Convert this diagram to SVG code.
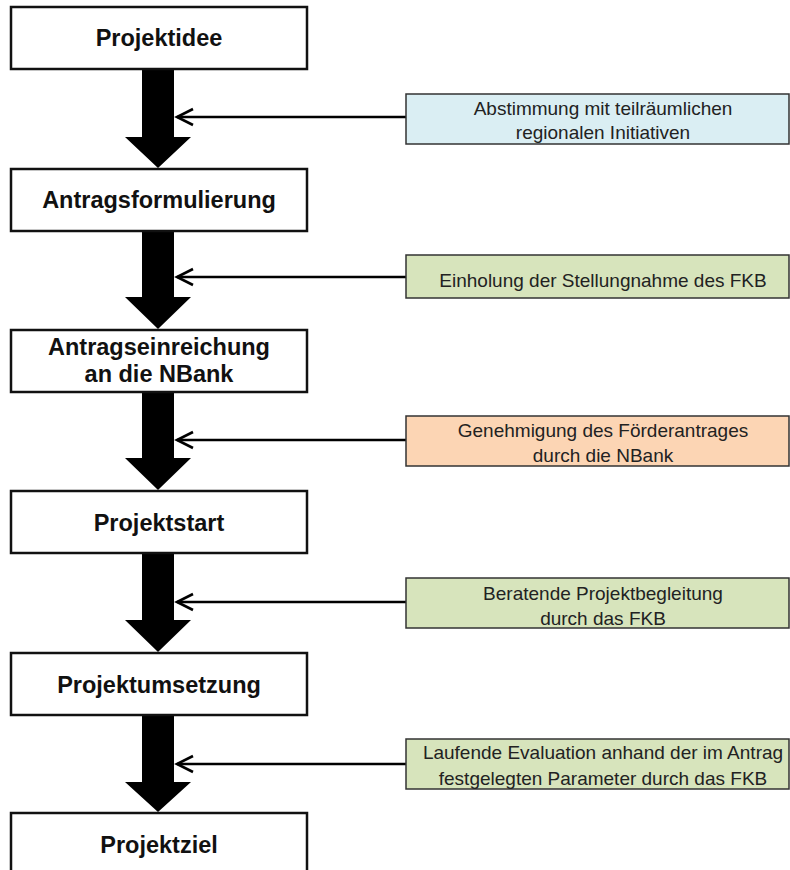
<svg xmlns="http://www.w3.org/2000/svg" width="790" height="870" viewBox="0 0 790 870">
<style>
.step rect{fill:#fff;stroke:#111;stroke-width:2.5}
.step text{font-family:"Liberation Sans",Arial,sans-serif;font-weight:bold;font-size:23.5px;fill:#111;text-anchor:middle}
.note rect{stroke:#333;stroke-width:1.5}
.note text{font-family:"Liberation Sans",Arial,sans-serif;font-size:19px;fill:#222;text-anchor:middle}
.big{fill:#000}
.link{stroke:#000;stroke-width:2.6;fill:none}
.chev{stroke:#000;stroke-width:2.6;fill:none;stroke-linejoin:miter}
</style>
<defs>
<polyline id="chev" class="chev" points="16,-8 0,0 16,8"/>
</defs>
<rect width="790" height="870" fill="#fff"/>
<g id="connectors">
<path class="big" d="M142,69 H174 V137 H191 L158,168 L125,137 H142 Z"/>
<path class="big" d="M142,231 H174 V297 H191 L158,329 L125,297 H142 Z"/>
<path class="big" d="M142,392 H174 V458 H191 L158,490 L125,458 H142 Z"/>
<path class="big" d="M142,553 H174 V620 H191 L158,652 L125,620 H142 Z"/>
<path class="big" d="M142,715 H174 V782 H191 L158,812 L125,782 H142 Z"/>
<line class="link" x1="406" y1="117" x2="177" y2="117"/>
<line class="link" x1="406" y1="277" x2="177" y2="277"/>
<line class="link" x1="406" y1="440" x2="177" y2="440"/>
<line class="link" x1="406" y1="602" x2="177" y2="602"/>
<line class="link" x1="406" y1="764" x2="177" y2="764"/>
<use href="#chev" x="177" y="117"/>
<use href="#chev" x="177" y="277"/>
<use href="#chev" x="177" y="440"/>
<use href="#chev" x="177" y="602"/>
<use href="#chev" x="177" y="764"/>
</g>
<g id="n1" class="step"><rect x="11" y="7" width="296" height="62"/><text x="159" y="46">Projektidee</text></g>
<g id="n2" class="step"><rect x="11" y="169" width="296" height="62"/><text x="159" y="208">Antragsformulierung</text></g>
<g id="n3" class="step"><rect x="11" y="330" width="296" height="62"/><text x="159" y="355">Antragseinreichung</text><text x="159" y="382">an die NBank</text></g>
<g id="n4" class="step"><rect x="11" y="491" width="296" height="62"/><text x="159" y="531">Projektstart</text></g>
<g id="n5" class="step"><rect x="11" y="653" width="296" height="62"/><text x="159" y="693">Projektumsetzung</text></g>
<g id="n6" class="step"><rect x="11" y="813" width="296" height="70"/><text x="159" y="853">Projektziel</text></g>
<g id="a1" class="note"><rect x="406" y="94" width="383" height="50" fill="#DAEEF3"/><text x="603" y="115">Abstimmung mit teilräumlichen</text><text x="603" y="139">regionalen Initiativen</text></g>
<g id="a2" class="note"><rect x="406" y="255" width="383" height="43" fill="#D7E4BC"/><text x="603" y="287">Einholung der Stellungnahme des FKB</text></g>
<g id="a3" class="note"><rect x="406" y="416" width="383" height="50" fill="#FCD5B4"/><text x="603" y="437">Genehmigung des Förderantrages</text><text x="603" y="462">durch die NBank</text></g>
<g id="a4" class="note"><rect x="406" y="578" width="383" height="50" fill="#D7E4BC"/><text x="603" y="600">Beratende Projektbegleitung</text><text x="603" y="625">durch das FKB</text></g>
<g id="a5" class="note"><rect x="406" y="739" width="383" height="50" fill="#D7E4BC"/><text x="603" y="759">Laufende Evaluation anhand der im Antrag</text><text x="603" y="785">festgelegten Parameter durch das FKB</text></g>
</svg>
